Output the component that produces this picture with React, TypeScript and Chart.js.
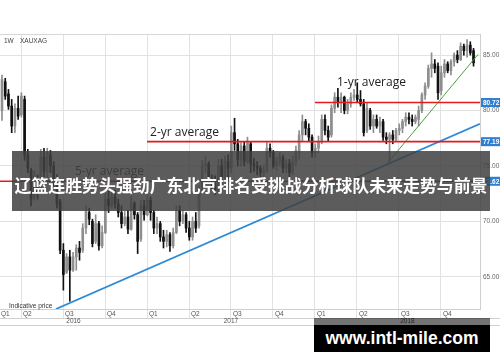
import React, { useEffect, useRef } from 'react';
import { Chart, registerables } from 'chart.js';

Chart.register(...registerables);

// Weekly XAU/XAG candles (Feb 2016 – Dec 2018)
const OPEN = [
  80.0, 82.6, 81.5, 80.4, 78.6, 80.2, 79.6, 81.0, 76.0, 74.6, 72.2, 73.8, 72.8, 75.8, 74.5, 76.0, 75.0, 73.6, 71.8, 67.4,
  65.4, 66.8, 65.6, 66.8, 67.6, 67.4, 69.4, 70.8, 70.0, 68.2, 69.8, 67.8, 69.0, 72.0, 71.4, 72.2, 71.6, 70.8, 69.8, 70.4,
  69.3, 71.6, 70.6, 68.4, 71.4, 70.6, 71.9, 70.8, 69.4, 69.8, 68.6, 68.2, 68.8, 67.8, 69.0, 71.0, 70.0, 70.6, 69.4, 68.6,
  70.0, 69.6, 72.8, 75.0, 75.2, 73.8, 73.4, 72.8, 75.0, 74.0, 75.4, 74.8, 78.0, 77.0, 75.6, 76.8, 75.4, 77.0, 75.2, 75.0,
  74.8, 74.4, 74.6, 76.6, 76.2, 75.0, 75.4, 75.8, 74.8, 75.2, 74.4, 75.4, 76.2, 77.8, 79.0, 78.4, 77.6, 76.2, 76.6, 77.2,
  79.2, 78.2, 77.8, 80.2, 81.2, 80.8, 81.2, 80.0, 80.6, 81.2, 81.4, 81.0, 80.6, 78.2, 80.0, 78.6, 79.2, 78.6, 79.0, 77.6,
  77.4, 77.8, 77.4, 78.2, 78.4, 79.0, 79.4, 79.2, 79.0, 79.2, 80.0, 81.4, 82.2, 83.8, 84.2, 84.0, 81.8, 83.4, 84.2, 83.6,
  84.4, 85.0, 84.6, 85.8, 85.4, 85.9, 85.4,
];
const HIGH = [
  83.2, 82.9, 81.9, 81.0, 80.6, 81.3, 81.6, 81.3, 76.5, 74.8, 74.6, 74.2, 76.5, 76.6, 76.6, 76.4, 75.4, 74.2, 72.0, 68.0,
  67.1, 67.4, 67.2, 67.9, 68.2, 69.8, 71.4, 71.2, 70.2, 70.6, 70.0, 69.6, 72.5, 72.8, 72.6, 72.8, 72.0, 71.4, 70.9, 71.0,
  72.3, 71.8, 70.8, 71.9, 71.9, 72.3, 72.2, 71.0, 70.4, 70.0, 69.2, 69.2, 69.0, 69.4, 71.4, 71.4, 71.0, 70.8, 70.0, 70.4,
  70.8, 73.2, 75.5, 75.9, 75.4, 74.2, 74.1, 75.6, 75.6, 75.9, 76.0, 78.6, 79.3, 77.4, 77.1, 77.2, 77.6, 77.2, 75.7, 75.4,
  75.0, 75.0, 77.1, 77.0, 76.4, 75.8, 76.2, 76.0, 75.6, 75.6, 75.9, 76.8, 78.2, 79.6, 79.2, 78.8, 77.8, 77.0, 77.7, 79.6,
  79.6, 78.6, 80.5, 81.6, 82.0, 81.6, 81.3, 81.0, 81.6, 81.9, 82.5, 81.8, 81.0, 80.7, 80.2, 79.6, 79.6, 79.4, 79.2, 78.0,
  78.0, 78.2, 78.4, 78.8, 79.2, 79.8, 79.8, 79.6, 79.6, 80.4, 81.6, 82.5, 84.1, 85.2, 84.6, 84.3, 84.0, 84.6, 84.4, 84.6,
  85.2, 85.4, 86.1, 86.0, 86.4, 86.2, 85.6,
];
const LOW = [
  79.1, 81.0, 80.1, 78.0, 78.0, 79.2, 79.4, 75.5, 74.4, 71.4, 71.9, 72.0, 72.5, 74.0, 74.0, 74.4, 73.0, 71.2, 67.1, 63.8,
  65.3, 62.8, 65.5, 65.6, 66.5, 67.2, 68.9, 69.7, 67.7, 68.0, 67.4, 67.6, 68.9, 70.8, 71.2, 71.2, 70.4, 69.4, 69.6, 68.9,
  69.2, 70.2, 67.1, 68.2, 70.1, 70.5, 70.1, 68.9, 68.9, 68.2, 67.6, 67.7, 67.3, 67.6, 68.9, 69.6, 69.8, 69.0, 68.3, 68.3,
  69.0, 69.4, 72.6, 74.4, 73.5, 72.8, 72.4, 72.6, 73.2, 73.8, 73.8, 74.4, 76.4, 75.0, 75.0, 75.0, 75.2, 74.4, 74.5, 74.2,
  74.0, 73.9, 74.4, 75.8, 74.8, 74.6, 75.0, 74.4, 74.4, 74.0, 74.2, 75.0, 75.6, 77.2, 77.8, 77.2, 75.8, 75.8, 76.2, 77.0,
  77.8, 77.2, 77.6, 79.8, 80.3, 79.8, 79.7, 79.7, 80.3, 80.9, 80.7, 80.4, 77.7, 78.0, 78.3, 78.0, 78.4, 78.0, 77.3, 77.0,
  75.3, 77.0, 77.2, 77.8, 78.0, 78.6, 78.8, 78.6, 78.8, 78.6, 79.8, 81.0, 82.0, 83.0, 83.4, 81.0, 81.4, 83.0, 83.4, 83.2,
  84.0, 84.3, 84.5, 85.0, 84.8, 85.0, 84.0,
];
const CLOSE = [
  82.8, 81.3, 80.4, 78.6, 80.2, 79.5, 81.3, 76.0, 74.8, 72.0, 74.0, 72.6, 75.8, 74.5, 76.2, 75.0, 73.4, 71.6, 67.4, 65.2,
  66.8, 65.6, 66.8, 67.6, 67.2, 69.4, 70.9, 70.2, 68.0, 69.8, 67.8, 69.0, 72.0, 71.4, 72.2, 71.6, 70.8, 69.8, 70.4, 69.3,
  71.6, 70.6, 68.2, 71.4, 70.6, 71.9, 70.8, 69.4, 69.8, 68.6, 68.2, 68.8, 67.8, 69.0, 71.0, 70.0, 70.6, 69.4, 68.6, 70.0,
  69.4, 72.8, 75.0, 75.2, 73.8, 73.4, 72.8, 75.0, 74.0, 75.4, 74.8, 78.0, 77.0, 75.6, 76.8, 75.4, 77.2, 75.2, 75.0, 74.8,
  74.4, 74.6, 76.6, 76.2, 75.0, 75.4, 75.8, 74.8, 75.2, 74.4, 75.4, 76.4, 77.8, 79.0, 78.4, 77.6, 76.2, 76.6, 77.2, 79.2,
  78.2, 77.6, 80.2, 81.2, 80.8, 81.2, 80.0, 80.6, 81.2, 81.4, 81.0, 80.6, 78.0, 80.2, 78.6, 79.2, 78.6, 79.0, 77.6, 77.4,
  77.8, 77.4, 78.2, 78.4, 79.0, 79.4, 79.2, 79.0, 79.4, 80.0, 81.4, 82.2, 83.8, 84.2, 83.8, 81.6, 83.4, 84.2, 83.6, 84.4,
  85.0, 84.6, 85.8, 85.4, 85.9, 85.2, 84.3,
];

// Quarter boundaries expressed as week index, with their labels
const QUARTER_STARTS = [-7.1, 5.9, 18.9, 31.9, 44.9, 57.9, 70.9, 83.9, 96.9, 109.9, 122.9, 135.9];
const QUARTER_LABELS = ['Q1', 'Q2', 'Q3', 'Q4', 'Q1', 'Q2', 'Q3', 'Q4', 'Q1', 'Q2', 'Q3', 'Q4'];
const YEAR_STARTS = [-7.1, 44.9, 96.9];
const YEAR_LABELS = ['2016', '2017', '2018'];
const Y_TICKS = [65, 70, 75, 80, 85];

const AVG_LABELS = ['1-yr average', '2-yr average', '5-yr average'];
const AVG_VALUES = [80.72, 77.19, 73.62];
const AVG_STARTS = [96.9, 44.9, -0.62];

const BLUE_TREND_X = [16.7, 148];
const BLUE_TREND_Y = [62.1, 78.8];
const GREEN_TREND_X = [119.5, 147.4];
const GREEN_TREND_Y = [75.3, 85.06];

const X_MIN = -0.62;
const X_MAX = 148;
const Y_MIN = 62.1;
const Y_MAX = 86.9;

const TITLE = '辽篮连胜势头强劲广东北京排名受挑战分析球队未来走势与前景';
const WATERMARK = 'www.intl-mile.com';

// label placement offsets (px) relative to each average line start / level
const AVG_LABEL_OFFSETS = [
  { dx: 22, dy: -20 },
  { dx: 3, dy: -9 },
  { dx: 75, dy: -10 },
];

const BLACK = '#111111';
const GREY = '#8e8e8e';

const overlayPlugin = {
  id: 'overlayPlugin',
  afterDraw(chart: any) {
    const { ctx, chartArea: a, scales } = chart;
    const x = scales.x;
    const y = scales.y;
    const W = chart.width;
    ctx.save();

    const hline = (x0: number, x1: number, yy: number, color: string) => {
      ctx.strokeStyle = color;
      ctx.lineWidth = 1;
      ctx.beginPath();
      ctx.moveTo(x0, Math.round(yy) + 0.5);
      ctx.lineTo(x1, Math.round(yy) + 0.5);
      ctx.stroke();
    };
    hline(0, a.right, a.top, '#d6d6d6');
    hline(0, W, a.bottom + 9, '#d0d0d0');
    hline(0, W, a.bottom + 16, '#d0d0d0');

    // header
    ctx.fillStyle = '#444';
    ctx.font = '6.5px "Liberation Sans", Arial, sans-serif';
    ctx.textBaseline = 'middle';
    ctx.textAlign = 'left';
    ctx.fillText('1W', 4, a.top + 7);
    ctx.fillText('XAUXAG', 20, a.top + 7);

    // indicative price
    ctx.fillStyle = '#333';
    ctx.font = '6.5px "Liberation Sans", Arial, sans-serif';
    ctx.fillText('Indicative price', 9, a.bottom - 3);

    // quarter labels
    ctx.fillStyle = '#555';
    ctx.font = '6.5px "Liberation Sans", Arial, sans-serif';
    QUARTER_STARTS.forEach((q, i) => {
      const px = Math.max(x.getPixelForValue(q) + 2, 1);
      ctx.fillText(QUARTER_LABELS[i], px, a.bottom + 5);
    });
    // year labels
    ctx.textAlign = 'center';
    YEAR_STARTS.forEach((s, i) => {
      const p0 = Math.max(0, x.getPixelForValue(s));
      const p1 = i + 1 < YEAR_STARTS.length ? x.getPixelForValue(YEAR_STARTS[i + 1]) : W;
      ctx.fillText(YEAR_LABELS[i], (p0 + p1) / 2, a.bottom + 12.5);
    });

    // average labels
    ctx.textAlign = 'left';
    ctx.fillStyle = '#222';
    ctx.font = '12px "Open Sans", sans-serif';
    AVG_LABELS.forEach((lab, i) => {
      const px = Math.max(0, x.getPixelForValue(AVG_STARTS[i])) + AVG_LABEL_OFFSETS[i].dx;
      const py = y.getPixelForValue(AVG_VALUES[i]) + AVG_LABEL_OFFSETS[i].dy;
      ctx.fillText(lab, px, py);
    });

    // value boxes on right axis
    AVG_VALUES.forEach((v) => {
      const py = y.getPixelForValue(v);
      ctx.fillStyle = '#2f7fd0';
      ctx.fillRect(a.right + 1, py - 4.5, W - a.right - 1, 9);
      ctx.fillStyle = '#fff';
      ctx.font = 'bold 6.5px "Liberation Sans", Arial, sans-serif';
      ctx.textAlign = 'left';
      ctx.fillText(v.toFixed(2), a.right + 3, py + 0.5);
    });
    ctx.restore();
  },
};

export default function App() {
  const ref = useRef<HTMLCanvasElement | null>(null);

  useEffect(() => {
    if (!ref.current) return;
    const idx = OPEN.map((_, i) => i);
    const colors = idx.map((i) => (CLOSE[i] >= OPEN[i] ? GREY : BLACK));

    const lineDs = (xs: number[], ys: number[], color: string, width: number) => ({
      type: 'line' as const,
      data: xs.map((v, i) => ({ x: v, y: ys[i] })),
      borderColor: color,
      borderWidth: width,
      pointRadius: 0,
      fill: false,
      tension: 0,
      order: 1,
    });

    const chart = new Chart(ref.current, {
      type: 'bar',
      data: {
        datasets: [
          {
            type: 'bar',
            data: idx.map((i) => ({ x: i, y: [LOW[i], HIGH[i]] })) as any,
            backgroundColor: colors,
            barThickness: 1,
            grouped: false,
            order: 10,
          },
          {
            type: 'bar',
            data: idx.map((i) => ({ x: i, y: [OPEN[i], CLOSE[i]] })) as any,
            backgroundColor: colors,
            barThickness: 2,
            minBarLength: 1,
            grouped: false,
            order: 9,
          },
          ...AVG_VALUES.map((v, i) => lineDs([AVG_STARTS[i], X_MAX], [v, v], '#e3191c', 1.6)),
          lineDs(BLUE_TREND_X, BLUE_TREND_Y, '#2c8ad6', 1.8),
          lineDs(GREEN_TREND_X, GREEN_TREND_Y, '#46a03c', 1),
        ] as any,
      },
      options: {
        responsive: false,
        animation: false,
        devicePixelRatio: 1,
        layout: { padding: { top: 34, left: 0, right: 0, bottom: 0 } },
        plugins: { legend: { display: false }, tooltip: { enabled: false }, title: { display: false } },
        scales: {
          x: {
            type: 'linear',
            min: X_MIN,
            max: X_MAX,
            offset: false,
            afterBuildTicks: (s: any) => {
              s.ticks = QUARTER_STARTS.filter((q) => q >= X_MIN).map((q) => ({ value: q }));
            },
            afterFit: (s: any) => {
              s.height = 53;
            },
            ticks: { display: false },
            grid: { color: '#e2e2e2', drawTicks: true, tickLength: 9, offset: false },
            border: { display: true, color: '#cfcfcf' },
          },
          y: {
            position: 'right',
            min: Y_MIN,
            max: Y_MAX,
            afterBuildTicks: (s: any) => {
              s.ticks = Y_TICKS.map((v) => ({ value: v }));
            },
            afterFit: (s: any) => {
              s.width = 20;
            },
            ticks: {
              callback: (v: any) => Number(v).toFixed(2),
              font: { size: 6.5, family: '"Liberation Sans", Arial, sans-serif' },
              color: '#666',
              padding: 3,
            },
            grid: { color: '#e2e2e2', drawTicks: false },
            border: { display: true, color: '#cfcfcf' },
          },
        },
      },
      plugins: [overlayPlugin],
    } as any);
    return () => chart.destroy();
  }, []);

  return (
    <div style={{ position: 'absolute', left: 0, top: 0, width: 500, height: 362, background: '#fff', overflow: 'hidden' }}>
      <canvas ref={ref} width={500} height={362} style={{ display: 'block' }} />
      <div
        style={{
          position: 'absolute',
          left: 12,
          top: 151,
          width: 478,
          height: 60,
          background: 'rgba(63,63,63,0.85)',
          display: 'flex',
          alignItems: 'center',
          justifyContent: 'center',
          color: '#fff',
          fontWeight: 'bold',
          fontSize: 16.9,
          fontFamily: '"Noto Sans CJK SC", sans-serif',
          whiteSpace: 'nowrap',
          paddingTop: 6,
          boxSizing: 'border-box',
        }}
      >
        {TITLE}
      </div>
      <div style={{ position: 'absolute', left: 314, top: 318, width: 176, height: 7, background: 'rgba(0,0,0,0.55)' }} />
      <div
        style={{
          position: 'absolute',
          left: 314,
          top: 325,
          width: 176,
          height: 27,
          background: '#000',
          color: '#fff',
          display: 'flex',
          alignItems: 'center',
          justifyContent: 'center',
          fontWeight: 'bold',
          fontSize: 17.5,
          fontFamily: '"Liberation Sans", Arial, sans-serif',
          whiteSpace: 'nowrap',
        }}
      >
        {WATERMARK}
      </div>
    </div>
  );
}
